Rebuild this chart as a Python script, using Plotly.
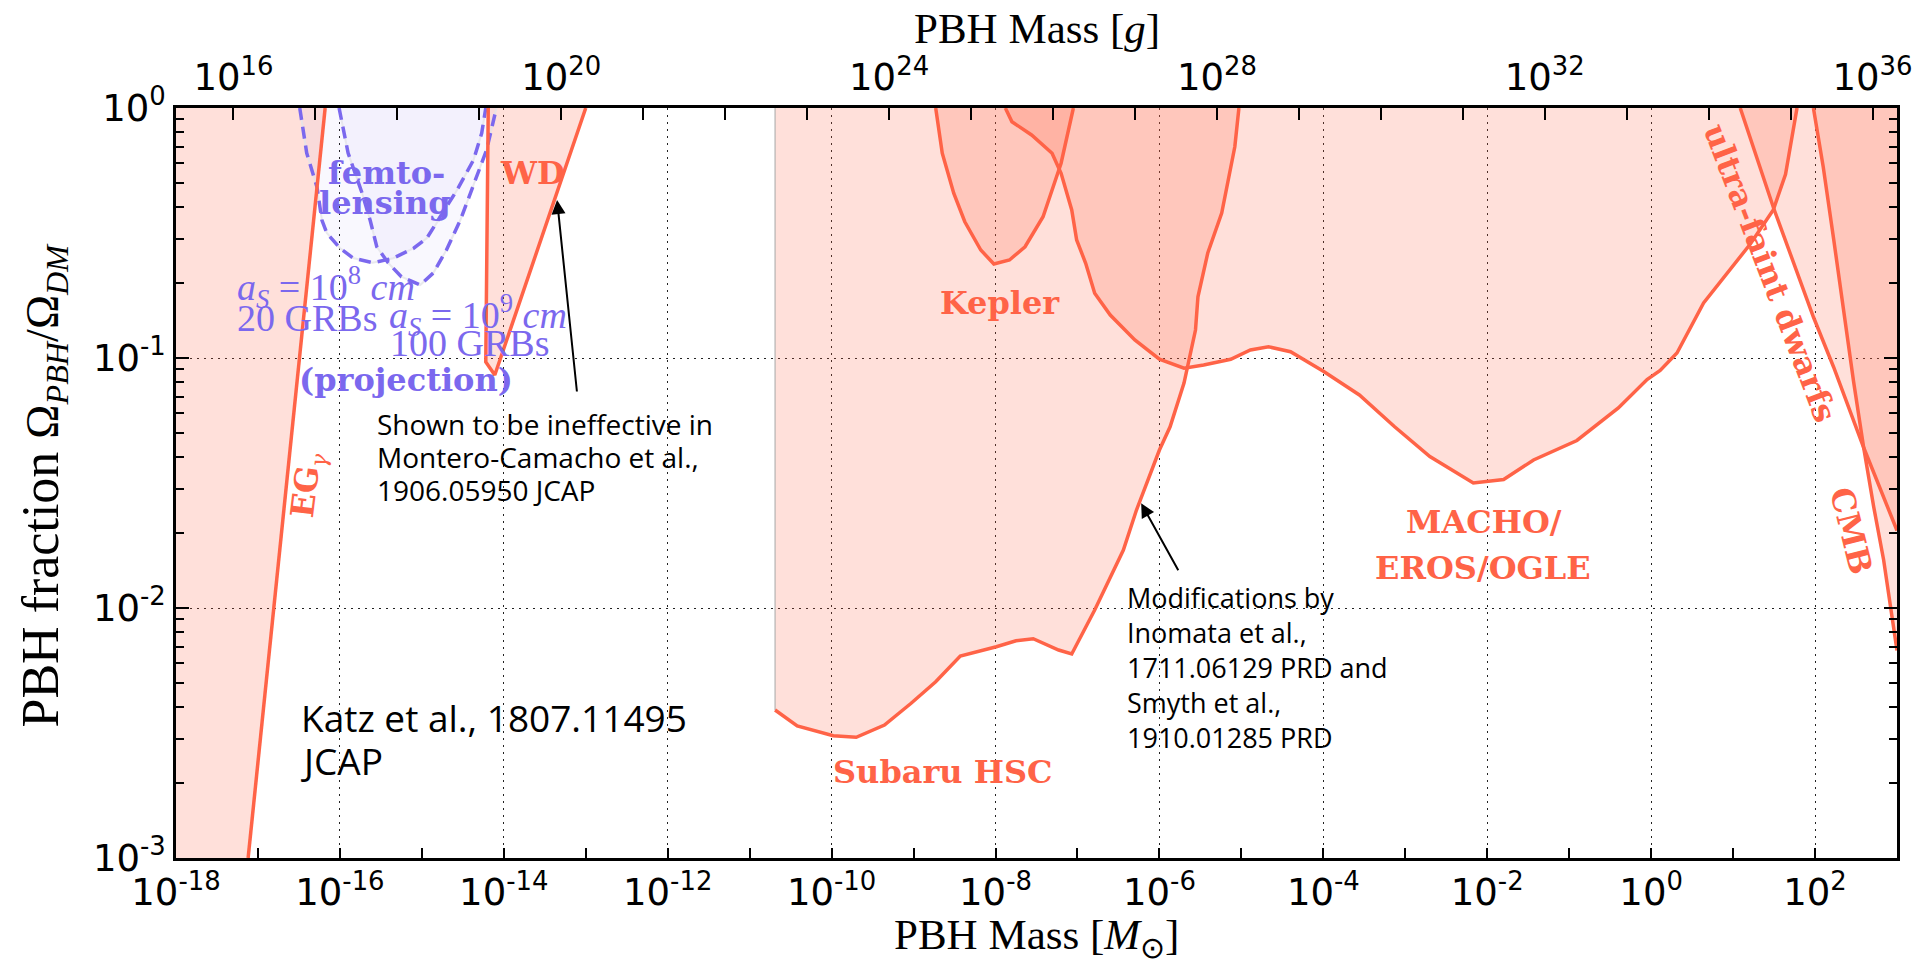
import plotly.graph_objects as go

# ---------------- data (log10 of mass in solar masses, log10 of fraction) -------------
MSUN_IN_G = 1.989e33
X_LOG_MIN, X_LOG_MAX = -18, 3
Y_LOG_MIN, Y_LOG_MAX = -3, 0

eg_logm = [-17.12, -16.18]
eg_logf = [-3.0, 0.0]

femto_a_logm = [-16.49, -16.405, -16.28, -16.22, -16.16, -16.00, -15.84, -15.60, -15.35, -15.10,
                -14.94, -14.82, -14.70, -14.57, -14.37, -14.27, -14.22]
femto_a_logf = [0.0, -0.18, -0.316, -0.448, -0.50, -0.56, -0.60, -0.619, -0.601, -0.561,
                -0.521, -0.461, -0.395, -0.328, -0.208, -0.101, 0.0]

femto_b_logm = [-16.01, -15.90, -15.73, -15.63, -15.55, -15.41, -15.25, -15.02, -14.86, -14.70,
                -14.53, -14.38, -14.21, -14.09]
femto_b_logf = [0.0, -0.18, -0.34, -0.45, -0.555, -0.62, -0.675, -0.708, -0.66, -0.568,
                -0.448, -0.316, -0.168, 0.0]

wd_logm = [-14.19, -14.22, -14.11, -13.0]
wd_logf = [0.0, -1.016, -1.068, 0.0]

subaru_logm = [-10.69, -10.42, -9.98, -9.70, -9.355, -9.03, -8.73, -8.43, -7.99, -7.75, -7.54,
               -7.23, -7.07, -6.79, -6.44, -6.28, -6.00, -5.87, -5.70, -5.56, -5.53, -5.41,
               -5.24, -5.14, -5.08, -5.03]
subaru_logf = [-2.408, -2.472, -2.511, -2.517, -2.468, -2.381, -2.295, -2.192, -2.155, -2.131,
               -2.123, -2.168, -2.184, -2.008, -1.768, -1.608, -1.368, -1.275, -1.10, -0.888,
               -0.755, -0.58, -0.42, -0.248, -0.155, 0.0]

kepler_logm = [-8.73, -8.65, -8.51, -8.375, -8.18, -8.02, -7.83, -7.64, -7.42, -7.31, -7.20, -7.05]
kepler_logf = [0.0, -0.181, -0.341, -0.455, -0.568, -0.624, -0.608, -0.555, -0.435, -0.328, -0.221, 0.0]

macho_logm = [-7.88, -7.80, -7.56, -7.31, -7.20, -7.07, -7.01, -6.90, -6.79, -6.60, -6.30, -6.00,
              -5.70, -5.46, -5.13, -4.89, -4.67, -4.40, -3.99, -3.56, -3.13, -2.70, -2.17, -1.80,
              -1.435, -0.906, -0.40, -0.05, 0.11, 0.315, 0.64, 1.21, 1.49, 1.64, 1.78]
macho_logf = [0.0, -0.055, -0.108, -0.181, -0.261, -0.408, -0.528, -0.621, -0.741, -0.828, -0.928,
              -1.005, -1.041, -1.028, -1.005, -0.968, -0.955, -0.975, -1.055, -1.148, -1.275,
              -1.394, -1.50, -1.486, -1.408, -1.33, -1.20, -1.086, -1.05, -0.98, -0.78, -0.544,
              -0.408, -0.265, 0.0]

ufd_logm = [1.087, 1.494, 1.98, 2.226, 2.593, 3.0]
ufd_logf = [0.0, -0.40, -0.836, -1.036, -1.358, -1.69]

cmb_logm = [1.98, 2.10, 2.226, 2.348, 2.47, 2.593, 2.715, 2.837, 2.94, 3.0]
cmb_logf = [0.0, -0.236, -0.522, -0.81, -1.094, -1.358, -1.594, -1.808, -2.036, -2.17]

x_major_exps = list(range(-18, 3, 2))
x_minor_exps = list(range(-17, 3, 2))
y_major_exps = [-3, -2, -1, 0]
g_label_exps = [16, 20, 24, 28, 32, 36]
g_minor_exps = [e for e in range(16, 37) if e not in g_label_exps]

# ---------------- styles ----------------
RED = "#FF6347"
RED_FILL = "rgba(255,99,71,0.2)"
PURPLE = "#7B68EE"
PURPLE_FILL = "rgba(123,104,238,0.045)"
LINE_W = 3.5


def p10(v):
    return [10.0 ** a for a in v]


fig = go.Figure()


def add_fill(lm, lf, color):
    fig.add_trace(go.Scatter(x=p10(lm), y=p10(lf), mode="lines", fill="toself", fillcolor=color,
                             line=dict(width=0, color=color),
                             hoverinfo="skip", showlegend=False))


def add_line(lm, lf, color, dash=None, width=LINE_W):
    fig.add_trace(go.Scatter(x=p10(lm), y=p10(lf), mode="lines",
                             line=dict(color=color, width=width, dash=dash),
                             hoverinfo="skip", showlegend=False))


# fills
add_fill([X_LOG_MIN] + eg_logm + [X_LOG_MIN], [eg_logf[0]] + eg_logf + [eg_logf[-1]], RED_FILL)
add_fill(femto_a_logm, femto_a_logf, PURPLE_FILL)
add_fill(femto_b_logm, femto_b_logf, PURPLE_FILL)
add_fill(wd_logm, wd_logf, RED_FILL)
add_fill([subaru_logm[0]] + subaru_logm, [Y_LOG_MAX] + subaru_logf, RED_FILL)
add_fill(kepler_logm, kepler_logf, RED_FILL)
add_fill(macho_logm, macho_logf, RED_FILL)
add_fill(ufd_logm + [X_LOG_MAX], ufd_logf + [Y_LOG_MAX], RED_FILL)
add_fill(cmb_logm + [X_LOG_MAX], cmb_logf + [Y_LOG_MAX], RED_FILL)

# faint outlines of the femtolensing regions and grey left edge of the Subaru region
add_line(femto_a_logm, femto_a_logf, "rgba(228,228,232,0.8)", width=2)
add_line(femto_b_logm, femto_b_logf, "rgba(228,228,232,0.8)", width=2)
add_line([subaru_logm[0], subaru_logm[0]], [Y_LOG_MAX, subaru_logf[0]], "rgba(170,170,170,0.7)", width=1.5)

# lines
add_line(femto_a_logm, femto_a_logf, PURPLE, dash="12px,7px")
add_line(femto_b_logm, femto_b_logf, PURPLE, dash="12px,7px")
add_line(eg_logm, eg_logf, RED)
add_line(wd_logm, wd_logf, RED)
add_line(subaru_logm, subaru_logf, RED)
add_line(kepler_logm, kepler_logf, RED)
add_line(macho_logm, macho_logf, RED)
add_line(ufd_logm, ufd_logf, RED)
add_line(cmb_logm, cmb_logf, RED)

# invisible trace to activate the top (grams) axis
fig.add_trace(go.Scatter(x=[10.0 ** a * MSUN_IN_G for a in eg_logm], y=p10(eg_logf),
                         xaxis="x2", yaxis="y", mode="lines",
                         line=dict(width=0), opacity=0, hoverinfo="skip", showlegend=False))

TICK_FONT = dict(family="DejaVu Sans", size=37, color="black")


def sup_label(e):
    return f"10<sup>{e}</sup>"


g_offset = 33.29863  # log10(MSUN_IN_G)

fig.update_layout(
    width=1917, height=961,
    margin=dict(l=176, r=20, t=108, b=103, autoexpand=False),
    paper_bgcolor="white", plot_bgcolor="white",
    showlegend=False,
    xaxis=dict(
        type="log", range=[X_LOG_MIN, X_LOG_MAX], automargin=False,
        tickmode="array", tickvals=p10(x_major_exps), ticktext=[sup_label(e) for e in x_major_exps],
        ticks="inside", ticklen=10, tickwidth=1.6, tickcolor="black",
        tickfont=TICK_FONT,
        showgrid=True, gridcolor="#222", griddash="2px,5px", gridwidth=1.2,
        minor=dict(tickmode="array", tickvals=p10(x_minor_exps), ticks="inside", ticklen=10,
                   tickwidth=1.6, tickcolor="black", showgrid=False),
        showline=True, linecolor="black", linewidth=2.5, mirror=True, zeroline=False,
    ),
    xaxis2=dict(
        type="log", range=[X_LOG_MIN + g_offset, X_LOG_MAX + g_offset], automargin=False,
        overlaying="x", side="top", anchor="y",
        tickmode="array", tickvals=[10.0 ** e for e in g_label_exps],
        ticktext=[sup_label(e) for e in g_label_exps],
        ticks="inside", ticklen=12, tickwidth=1.6, tickcolor="black",
        minor=dict(tickmode="array", tickvals=[10.0 ** e for e in g_minor_exps], ticks="inside",
                   ticklen=12, tickwidth=1.6, tickcolor="black", showgrid=False),
        tickfont=TICK_FONT, showgrid=False, showline=True, linecolor="black", linewidth=2.5,
        zeroline=False,
    ),
    yaxis=dict(
        type="log", range=[Y_LOG_MIN, Y_LOG_MAX], automargin=False,
        tickmode="array", tickvals=p10(y_major_exps), ticktext=[sup_label(e) for e in y_major_exps],
        ticks="inside", ticklen=13, tickwidth=1.6, tickcolor="black",
        tickfont=TICK_FONT, ticklabelstandoff=0,
        showgrid=True, gridcolor="#222", griddash="2px,5px", gridwidth=1.2,
        minor=dict(tickmode="array",
                   tickvals=[m * 10.0 ** e for e in y_major_exps[:-1] for m in range(2, 10)],
                   ticks="inside", ticklen=8, tickwidth=1.6, tickcolor="black", showgrid=False),
        showline=True, linecolor="black", linewidth=2.5, mirror="ticks", zeroline=False,
    ),
)

SERIF_TITLE = dict(family="Liberation Serif", size=43, color="black")
ann = []
ann.append(dict(xref="paper", yref="paper", x=0.5, y=-0.107, text="PBH Mass [<i>M</i><sub>⊙</sub>]",
                showarrow=False, font=SERIF_TITLE, xanchor="center", yanchor="middle"))
ann.append(dict(xref="paper", yref="paper", x=0.5, y=1.106, text="PBH Mass [<i>g</i>]",
                showarrow=False, font=SERIF_TITLE, xanchor="center", yanchor="middle"))
ann.append(dict(xref="paper", yref="paper", x=-0.0767, y=0.498, textangle=-90,
                text="PBH fraction <span style='font-size:46px'>Ω<sub><i>PBH</i></sub>/Ω<sub><i>DM</i></sub></span>",
                showarrow=False, font=dict(family="Liberation Serif", size=52, color="black"),
                xanchor="center", yanchor="middle"))

BOLD_RED = dict(family="DejaVu Serif", size=32, color=RED, weight="bold")
BOLD_PURPLE = dict(family="DejaVu Serif", size=32, color=PURPLE, weight="bold")
PURPLE_MATH = dict(family="Liberation Serif", size=38, color=PURPLE)
NB = "\u00a0"


def data_text(x, y, text, font, anchor="center", angle=0):
    ann.append(dict(xref="x", yref="y", x=x, y=y, text=text, showarrow=False, font=font,
                    xanchor=anchor, yanchor="middle", textangle=angle))


data_text(-15.43, -0.26, "femto-", BOLD_PURPLE)
data_text(-15.45, -0.38, "lensing", BOLD_PURPLE)
data_text(-15.19, -1.088, "(projection)", BOLD_PURPLE)
data_text(-17.28, -0.716, f"<i>a</i><sub><i>S</i></sub>{NB}={NB}10<sup>8</sup>{NB}<i>cm</i>", PURPLE_MATH, "left")
data_text(-17.28, -0.84, "20 GRBs", PURPLE_MATH, "left")
data_text(-15.43, -0.828, f"<i>a</i><sub><i>S</i></sub>{NB}={NB}10<sup>9</sup>{NB}<i>cm</i>", PURPLE_MATH, "left")
data_text(-15.41, -0.94, "100 GRBs", PURPLE_MATH, "left")
data_text(-13.655, -0.26, "WD", BOLD_RED)
data_text(-16.39, -1.508, "<b>EG</b><sub><i>γ</i></sub>", dict(family="DejaVu Serif", size=32, color=RED), angle=-83)
data_text(-7.944, -0.78, "Kepler", BOLD_RED)
data_text(-8.64, -2.656, "Subaru HSC", BOLD_RED)
data_text(-2.04, -1.656, "MACHO/", BOLD_RED)
data_text(-2.05, -1.84, "EROS/OGLE", BOLD_RED)
data_text(1.453, -0.66, "ultra-faint dwarfs", BOLD_RED, angle=69)
data_text(2.44, -1.692, "CMB", BOLD_RED, angle=76)

NOTE_FONT = dict(family="Open Sans", size=28, color="black")
for i, line in enumerate(["Shown to be ineffective in", "Montero-Camacho et al.,", "1906.05950 JCAP"]):
    data_text(-15.571, -1.264 - i * 0.132, line, NOTE_FONT, "left")
for i, line in enumerate(["Modifications by", "Inomata et al.,", "1711.06129 PRD and",
                          "Smyth et al.,", "1910.01285 PRD"]):
    data_text(-6.42, -1.958 - i * 0.14, line, dict(family="Open Sans", size=27, color="black"), "left")
KATZ_FONT = dict(family="Open Sans", size=37, color="black")
data_text(-16.499, -2.436, "Katz et al., 1807.11495", KATZ_FONT, "left")
data_text(-16.499, -2.608, "JCAP", KATZ_FONT, "left")

# arrows
for (hx, hy, tx, ty) in [(-13.35, -0.368, -13.106, -1.14), (-6.223, -1.581, -5.76, -1.855)]:
    ann.append(dict(xref="x", yref="y", axref="x", ayref="y", x=hx, y=hy, ax=tx, ay=ty, text="",
                    showarrow=True, arrowhead=2, arrowsize=1.4, arrowwidth=2, arrowcolor="black"))

fig.update_layout(annotations=ann)
fig.write_html("out.html")
